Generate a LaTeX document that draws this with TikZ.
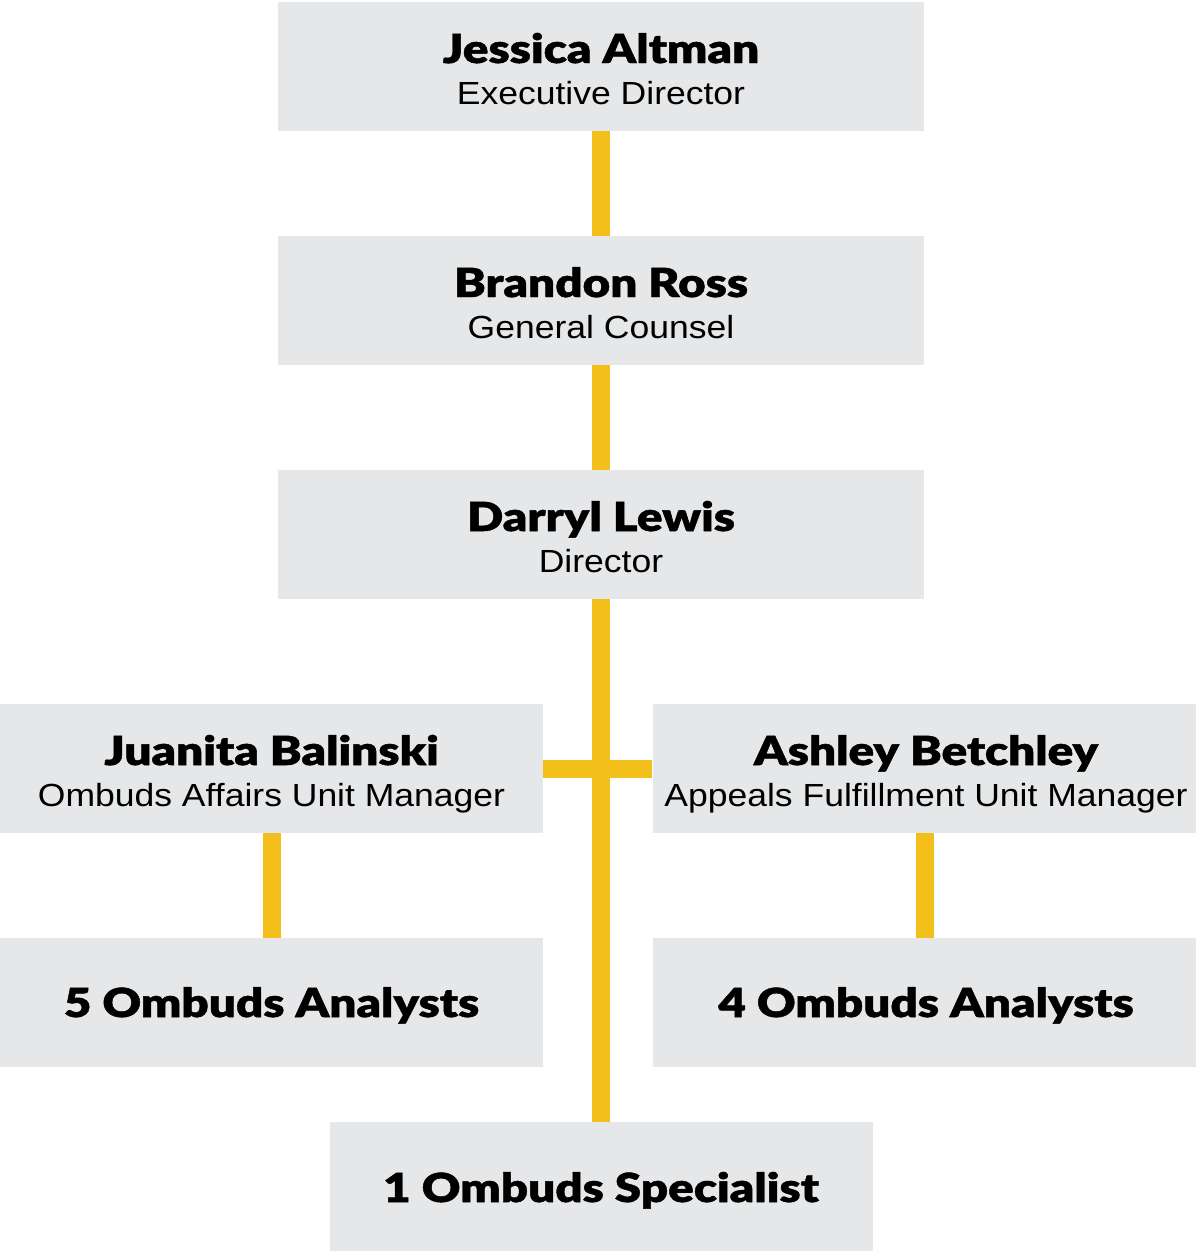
\documentclass[tikz,border=0pt]{standalone}
\usepackage{fontspec}
\setmainfont{Liberation Sans}
\newfontfamily\heavy{Lato Black}[FakeStretch=1.19,FakeBold=1.2]
\newfontfamily\plain{Liberation Sans}[FakeStretch=1.11]
\definecolor{boxgray}{HTML}{E6E7E9}
\definecolor{gold}{HTML}{F3BF1B}
\begin{document}
\begin{tikzpicture}[x=1pt,y=-1pt,
  box/.style={fill=boxgray,draw=none,inner sep=0,minimum height=129pt},
  wide/.style={box,minimum width=646pt},
  half/.style={box,minimum width=543pt},
  nametext/.style={inner sep=0,anchor=base,font=\heavy\fontsize{40}{40}\selectfont},
  roletext/.style={inner sep=0,anchor=base,font=\plain\fontsize{32}{32}\selectfont},
  link/.style={draw=gold,line width=18pt}]
\useasboundingbox (0,0) rectangle (1195,1251);
% boxes
\node[wide] (ja) at (601,66.5) {};
\node[wide] (br) at (601,300.5) {};
\node[wide] (dl) at (601,534.5) {};
\node[half] (jb) at (271.5,768.5) {};
\node[half] (ab) at (924,768.5) {};
\node[half] (fa) at (271.5,1002.5) {};
\node[half] (fo) at (924,1002.5) {};
\node[half] (os) at (601,1186.5) {};
% connectors
\draw[link] (ja.south) -- (br.north);
\draw[link] (br.south) -- (dl.north);
\draw[link] (dl.south) -- (os.north);
\draw[link] (jb.east) -- (ab.west);
\draw[link] ([xshift=0.5pt]jb.south) -- ([xshift=0.5pt]fa.north);
\draw[link] ([xshift=1pt]ab.south) -- ([xshift=1pt]fo.north);
% texts
\node[nametext] (jan) at (601,63) {Jessica Altman};
\node[roletext] (jar) at (601,104) {Executive Director};
\node[nametext] (brn) at (601,297) {Brandon Ross};
\node[roletext] (brr) at (601,338) {General Counsel};
\node[nametext] (dln) at (601,531) {Darryl Lewis};
\node[roletext] (dlr) at (601,572) {Director};
\node[nametext] (jbn) at (271.5,765) {Juanita Balinski};
\node[roletext] (jbr) at (271.5,806) {Ombuds Affairs Unit Manager};
\node[nametext] (abn) at (926,765) {Ashley Betchley};
\node[roletext] (abr) at (926,806) {Appeals Fulfillment Unit Manager};
\node[nametext] (fan) at (271.5,1017) {5 Ombuds Analysts};
\node[nametext] (fon) at (926,1017) {4 Ombuds Analysts};
\node[nametext] (osn) at (601,1202) {1 Ombuds Specialist};
\end{tikzpicture}
\end{document}
